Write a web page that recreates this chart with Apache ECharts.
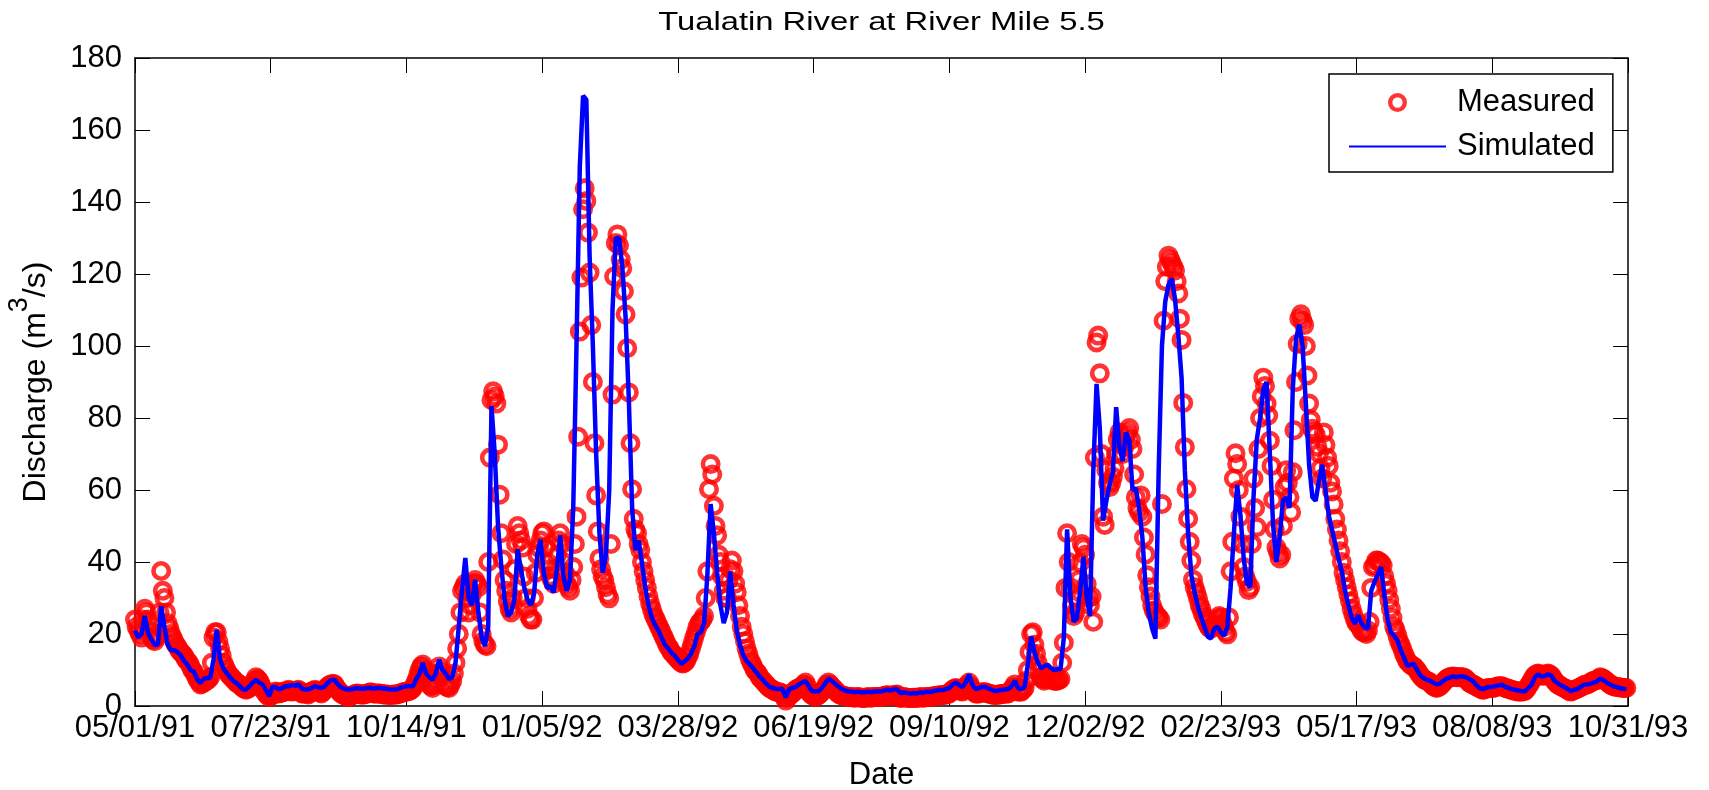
<!DOCTYPE html>
<html>
<head>
<meta charset="utf-8">
<title>Tualatin River at River Mile 5.5</title>
<script src="https://cdn.jsdelivr.net/npm/echarts@6/dist/echarts.min.js"></script>
<style>
  html, body { margin: 0; padding: 0; background: #ffffff; }
  #chart { width: 1709px; height: 790px; }
</style>
</head>
<body>
<div id="chart"></div>
<script>
// Discharge, Tualatin River at RM 5.5, from 05/01/91 (day 0).
// Measured values are daily; simulated values are every 2 days.
const chartTitle = 'Tualatin River at River Mile 5.5';
const measuredStepDays = 1;
const simulatedStepDays = 2;
const tickStepDays = 83;
const tickLabels = ['05/01/91', '07/23/91', '10/14/91', '01/05/92', '03/28/92', '06/19/92',
  '09/10/92', '12/02/92', '02/23/93', '05/17/93', '08/08/93', '10/31/93'];
const yTicks = [0, 20, 40, 60, 80, 100, 120, 140, 160, 180];

// Measured discharge (m3/s), one row per 20 days
const measuredQ = [
  24, 22, 21, 20, 19, 24, 27, 26, 24, 21, 19, 18.5, 18, 19, 20, 26, 37.5, 32, 30, 26,
  23, 21.5, 20, 19, 18, 17, 16.5, 15.5, 15, 14.5, 14, 13, 12.5, 12, 11, 10, 9.5, 8.5, 7.5, 6.8,
  6, 6.2, 6.5, 7, 7, 7.5, 8, 12, 19, 20.5, 20.5, 18, 16, 14, 12, 11, 10, 9, 8.5, 8,
  7.5, 7, 6.5, 6.2, 6, 5.5, 5, 4.8, 4.5, 4.8, 5, 5.5, 6, 7, 8, 7.5, 7, 6, 5, 4.2,
  3.5, 3, 2.5, 2.8, 3, 3.5, 4, 3.8, 3.5, 3.6, 3.8, 4, 4, 4.2, 4.5, 4.2, 4, 4.1, 4.2, 4.3,
  4.5, 4, 3.5, 3.5, 3.6, 3.4, 3.2, 3.6, 4, 4.2, 4.5, 4.2, 4, 3.8, 3.5, 4, 4.5, 5, 5.5, 5.8,
  6, 6.2, 6, 5.2, 4.5, 4, 3.5, 3.2, 3, 2.8, 2.5, 2.6, 2.8, 3, 3.2, 3.4, 3.5, 3.3, 3.2, 3.2,
  3.2, 3.3, 3.5, 3.6, 3.8, 3.6, 3.5, 3.5, 3.5, 3.5, 3.5, 3.3, 3.2, 3.2, 3.2, 3.1, 3, 3.1, 3.2, 3.2,
  3.2, 3.3, 3.5, 3.6, 3.8, 3.9, 4, 4.1, 4.2, 4.5, 5, 6, 7, 8.5, 10, 11, 11.5, 10, 8, 7,
  6, 5.5, 5, 6, 7, 9, 11, 9.5, 8, 6.5, 5.5, 5.2, 5, 6, 7, 9, 12, 16, 20, 26,
  32, 33, 34, 30, 26, 28, 31, 34, 35, 34, 33, 26, 20, 18, 17, 16.6, 40, 69, 85, 87.4,
  86, 84, 72.6, 58.7, 48, 40.7, 35, 32, 29, 27, 26, 30, 38, 45, 50, 48, 46, 44, 36, 30,
  27, 25, 24, 24, 30, 37, 42, 44, 46, 48, 48.5, 44, 40, 38, 36, 35, 34, 38, 42, 46,
  48, 45, 40, 37, 34, 33, 32, 35, 38.6, 45, 52.6, 74.8, 104, 119, 138, 143.8, 140.3, 131.5, 120.4, 105.8,
  90, 73, 58.5, 48.5, 41, 38, 36, 35, 33, 31, 29.9, 45, 86.5, 119.3, 128.6, 131, 128, 124, 121.6, 115.2,
  108.8, 99.4, 87.1, 73, 60.2, 52, 49, 47.9, 45, 43.3, 40, 37.4, 35, 32.8, 30.5, 28.5, 27, 25.5, 24.5, 23.5,
  22.5, 21.5, 20.5, 19.5, 18.5, 17.5, 16.5, 16, 15, 14.5, 14, 13.5, 13, 12.5, 12, 11.8, 12, 12.5, 13.5, 14.5,
  16, 17.5, 19, 20.5, 22, 23, 23.5, 24, 25, 30, 37.4, 60.2, 67.2, 64.3, 55.6, 50, 47.4, 42, 40, 36,
  32, 30, 30, 35, 38, 40.4, 37.4, 34, 31.6, 28, 25, 22, 20, 18, 16, 14.5, 13, 12, 11, 10,
  9.5, 9, 8, 7.5, 7, 6.5, 6, 5.5, 5, 4.8, 4.5, 4.2, 4, 3.9, 3.8, 3.6, 3.5, 2.5, 1.5, 2.2,
  3, 3.2, 3.5, 4, 4.5, 4.8, 5, 5.2, 5.5, 6, 6.5, 5.5, 4, 3.5, 3, 2.8, 2.5, 2.8, 3, 3.5,
  4, 4.5, 5, 6, 6.5, 6, 5.5, 5, 4.5, 4, 3.5, 3.2, 3, 2.9, 2.8, 2.6, 2.5, 2.5, 2.5, 2.4,
  2.3, 2.4, 2.5, 2.4, 2.3, 2.2, 2.2, 2.3, 2.5, 2.4, 2.3, 2.4, 2.5, 2.5, 2.5, 2.5, 2.5, 2.6, 2.8, 2.9,
  3, 2.9, 2.8, 2.9, 3, 3.1, 3.2, 2.7, 2.2, 2.3, 2.5, 2.4, 2.3, 2.2, 2.2, 2.2, 2.3, 2.3, 2.2, 2.3,
  2.5, 2.4, 2.3, 2.4, 2.5, 2.5, 2.5, 2.6, 2.7, 2.7, 2.8, 2.9, 3, 3, 3, 3.1, 3.2, 3.3, 3.5, 4,
  4.5, 4.8, 5, 4.8, 4.5, 4.2, 4, 4.5, 5, 5.8, 6.5, 5.5, 4.5, 4, 3.5, 3.5, 3.5, 3.6, 3.8, 3.8,
  3.8, 3.6, 3.5, 3.3, 3.2, 3.1, 3, 3.1, 3.2, 3.2, 3.3, 3.4, 3.5, 3.5, 3.5, 4, 4.5, 5.2, 6, 5,
  4, 4, 4, 4.5, 5, 7, 10, 15, 20, 20.5, 17, 14.5, 12, 10, 8, 7.5, 7, 7.5, 8, 8,
  7.5, 7.2, 7, 7, 7, 7.2, 7.5, 12, 17.6, 32.8, 48, 40, 33, 28, 25, 26, 30, 35, 39.8, 45,
  44, 42, 33.9, 30, 28, 30.4, 23.4, 69, 101, 102.9, 92.4, 70, 52.6, 50.3, 65.5, 62, 60.8, 62, 63.7, 66,
  70, 74, 76, 73, 70, 72, 75, 76, 77.2, 74, 71.4, 64.3, 58, 55, 53.8, 58.5, 52.6, 46.8, 42.1, 36.3,
  33, 30.4, 28, 26.5, 25.7, 25, 24.6, 24, 56.1, 107, 118, 122, 125.1, 124, 123, 122, 121, 118, 114.6, 107.6,
  101.7, 84.2, 71.9, 60.2, 52, 45.6, 40.4, 35.1, 33, 31.6, 30, 28.1, 27, 25.5, 24.6, 23.5, 22.5, 21.7, 21.5, 22,
  22.5, 23, 24, 25, 24.6, 23, 22, 20.5, 19.9, 24.6, 37.4, 45.6, 63.2, 70.2, 67.2, 60, 52.6, 45, 38.6, 36,
  34.5, 32.2, 33, 45, 63.2, 55, 49.7, 71.4, 80, 86, 91.2, 88.9, 84, 80.7, 73.7, 66.7, 57.3, 49.1, 44, 42.7,
  41, 42, 50, 60.8, 65.5, 62, 58, 53.8, 65, 76.6, 90, 100.6, 107.6, 108.8, 107, 105.8, 100, 91.8, 84, 79.5,
  77, 76, 75.4, 72, 70.2, 66, 63.2, 76, 72.5, 69, 66.7, 62, 59.6, 56, 52, 49, 46, 43, 40, 37,
  35, 33, 31, 29, 27, 25.5, 24, 23, 23, 22, 21, 20.5, 20.5, 20, 21, 23.4, 32.8, 38.6, 39, 40.4,
  40.4, 40, 39.8, 39, 36, 34, 32, 29.5, 27, 24.5, 22, 21, 19.5, 18, 17, 15.8, 14.5, 13.5, 12.5, 12,
  11.5, 11.2, 11, 10.5, 10, 9.2, 8.5, 8, 7.5, 7.2, 7, 6.8, 6.5, 6, 5.5, 5.2, 5, 5.2, 5.5, 6,
  6.5, 7, 7.5, 7.8, 8, 8.1, 8.2, 8.1, 8, 8, 8, 8, 8, 7.8, 7.5, 7, 6.5, 6.2, 6, 5.8,
  5.5, 5.2, 5, 4.8, 4.5, 4.6, 4.8, 4.9, 5, 5, 5, 5.1, 5.2, 5.4, 5.5, 5.5, 5.5, 5.2, 5, 4.9,
  4.8, 4.6, 4.5, 4.3, 4.2, 4.1, 4, 4, 4, 4.1, 4.2, 4.8, 5.5, 6.2, 7, 7.8, 8.5, 8.8, 9, 8.8,
  8.5, 8.5, 8.5, 8.8, 9, 8.8, 8.5, 7.8, 7, 6.5, 6, 5.8, 5.5, 5.2, 5, 4.8, 4.5, 4.2, 4, 4.2,
  4.5, 4.6, 4.8, 5, 5.2, 5.5, 5.8, 5.9, 6, 6.2, 6.5, 6.8, 7, 7.1, 7.2, 7.6, 8, 7.8, 7.5, 7.2,
  6.8, 6.4, 6, 5.8, 5.5, 5.4, 5.3, 5.2, 5.2, 5.1, 5, 5, 5
];

// Simulated discharge (m3/s), one row per 20 days
const simulatedQ = [
  21, 19, 20, 25, 20.3, 18.5, 17, 17, 27.7, 22,
  17, 15.5, 15.5, 15, 14, 12.5, 11.5, 10, 9.5, 7.5,
  6.4, 7.5, 7.8, 7.8, 12.9, 21.2, 13, 10.5, 9.2, 8,
  7, 6.4, 5.5, 4.6, 4.6, 5.5, 6.5, 7.3, 6.5, 6,
  4.5, 2.7, 5.3, 5.3, 4.6, 5, 5.5, 5.5, 5.8, 5.6,
  6, 4.8, 4.6, 4.6, 5, 5.5, 5.2, 5, 5.5, 6.5,
  7.2, 7.3, 6, 5.2, 4.8, 4.6, 4.6, 4.8, 5, 4.8,
  4.8, 5, 5, 4.8, 5, 5, 4.8, 4.8, 4.6, 4.6,
  4.6, 5, 5.3, 5.5, 5.5, 5.5, 7.5, 9, 12, 9,
  8, 7.3, 9, 12.9, 10, 9, 7.5, 8, 12, 22,
  32.3, 41.1, 30, 28, 35.1, 26, 19, 16.6, 22, 83.3,
  70, 50, 38.8, 29.6, 25, 26, 29.6, 43.5, 38, 33,
  29.6, 28, 31, 42.1, 46.2, 37, 32.8, 33.3, 31.5, 38,
  47.4, 36, 32, 35, 55, 100.6, 149.7, 169.5, 168.4, 125,
  100, 70, 48, 37, 42, 60, 110, 130, 130, 122,
  108, 85, 55, 43.3, 46, 39.8, 33, 28, 24.6, 22.5,
  21.1, 19, 17, 16, 14.8, 14, 12.8, 11.7, 12.3, 13.2,
  14.5, 16.5, 20, 20.5, 23, 36.3, 56.1, 48, 37, 28,
  23, 26, 37.4, 28.1, 21, 17, 14.1, 12.5, 11.5, 10.5,
  9.3, 8.2, 7.2, 6.2, 5.3, 5, 4.8, 4.7, 4.7, 2.4,
  4.7, 5, 5.3, 6, 6.5, 7, 5.5, 4.1, 4.1, 4.1,
  5, 6.2, 7.6, 7, 6.2, 5.5, 4.8, 4.3, 4.1, 4,
  3.8, 4, 3.8, 3.8, 4, 3.8, 4, 4.1, 4, 4.3,
  4.5, 4.3, 4.6, 4.7, 3.5, 3.8, 3.6, 3.5, 3.6, 3.5,
  3.8, 3.6, 4, 3.9, 4.1, 4.3, 4.5, 4.4, 4.7, 5,
  6, 6.5, 5.8, 5.3, 6.5, 8.8, 6, 4.7, 5, 5.3,
  5.3, 4.8, 4.5, 4.1, 4.3, 4.5, 4.6, 4.7, 5.5, 7,
  5, 4.7, 5.3, 11.7, 19.3, 15, 12.2, 10.5, 11, 11.5,
  10.6, 10, 10.2, 10.3, 19, 49.1, 30.4, 23.4, 24.5, 32,
  41.5, 30, 25, 65, 89.5, 77.2, 51.5, 57, 61.5, 65,
  83, 72, 68, 76, 74, 60, 60.5, 55, 47, 33,
  25.7, 21.5, 18.7, 65.5, 100, 112.3, 117, 118.7, 113, 103,
  91.2, 65.5, 48, 36.3, 31.5, 27.5, 24.6, 22, 19.3, 18.7,
  21.5, 22, 20.5, 19.5, 22, 33, 48, 61.4, 53, 41,
  34, 33, 58, 74, 80, 88, 90, 70, 50, 40,
  47, 57, 58, 55, 88, 102, 106, 100, 84, 67,
  58, 57, 62.5, 67, 60, 53, 49, 45, 41, 37.4,
  32, 28, 24.6, 22.8, 25.2, 23, 21.8, 21.5, 32, 34.5,
  36.5, 38.6, 31, 24, 20.5, 19.5, 18.2, 15.5, 13.5, 11.1,
  11.5, 11.7, 10, 8.5, 7.8, 7.3, 7, 6.5, 6, 6.2,
  7, 7.6, 7.9, 8.2, 8, 8.2, 8.2, 8, 7.5, 7,
  6, 5, 4.7, 5, 5.3, 5.3, 5.5, 5.8, 5.9, 5.3,
  5, 4.7, 4.5, 4.3, 4.1, 4.1, 5, 5.9, 8, 8.8,
  8.2, 8.3, 8.8, 8.5, 7, 6.3, 5.8, 5.3, 4.8, 4.1,
  4.5, 4.7, 5.3, 5.9, 6, 6.2, 6.5, 6.8, 7.6, 7.2,
  6.5, 6, 5.5, 5.3, 5, 4.8, 4.7
];

const FONT = '"Liberation Sans", Arial, Helvetica, sans-serif';
const lastDay = tickStepDays * (tickLabels.length - 1);
const yMin = yTicks[0];
const yMax = yTicks[yTicks.length - 1];
const yStep = yTicks[1] - yTicks[0];

const GRID = { left: 135, right: 81, top: 58, bottom: 84 };
const plotCenterX = GRID.left + (1709 - GRID.left - GRID.right) / 2;

// open ring marker (outer radius 50, inner radius 27, opposite winding leaves the hole)
const RING = 'path://M50,0A50,50,0,1,1,50,100A50,50,0,1,1,50,0ZM50,23A27,27,0,1,0,50,77A27,27,0,1,0,50,23Z';

// pair each sample with its day offset from the first date
const toSeries = (values, step) => values.map((q, i) => [i * step, q]);

const frameLine = { show: true, onZero: false, lineStyle: { color: '#000', width: 1.5 } };
const innerTick = { show: true, inside: true, length: 15, lineStyle: { color: '#000', width: 1 } };

const chart = echarts.init(document.getElementById('chart'), null, { renderer: 'canvas' });

chart.setOption({
  animation: false,
  backgroundColor: '#ffffff',
  textStyle: { fontFamily: FONT },
  // plot title, set in a slightly widened face centred over the plot area
  graphic: [{
    type: 'text',
    x: plotCenterX,
    y: 23,
    scaleX: 1.26,
    scaleY: 1,
    style: {
      text: chartTitle,
      font: '26px ' + FONT,
      fill: '#000',
      align: 'center',
      verticalAlign: 'middle'
    },
    silent: true
  }],
  grid: Object.assign({ containLabel: false, outerBoundsMode: 'none' }, GRID),
  legend: {
    orient: 'vertical',
    left: 1329,
    top: 74,
    backgroundColor: '#ffffff',
    borderColor: '#000',
    borderWidth: 1.5,
    borderRadius: 0,
    padding: [13, 18, 10, 19],
    itemWidth: 97,
    itemHeight: 19,
    itemGap: 13,
    textStyle: { fontFamily: FONT, fontSize: 31, color: '#000', lineHeight: 31, padding: [0, 0, 0, 6] },
    data: [
      'Measured',
      { name: 'Simulated', itemStyle: { opacity: 0 } }
    ]
  },
  xAxis: [
    {
      type: 'value',
      position: 'bottom',
      min: 0,
      max: lastDay,
      interval: tickStepDays,
      name: 'Date',
      nameLocation: 'middle',
      nameGap: 54,
      nameMoveOverlap: false,
      nameTextStyle: { fontFamily: FONT, fontSize: 31, color: '#000', lineHeight: 31 },
      axisLine: frameLine,
      axisTick: innerTick,
      splitLine: { show: false },
      axisLabel: {
        fontFamily: FONT, fontSize: 31, color: '#000', margin: 7,
        showMinLabel: true, showMaxLabel: true, hideOverlap: false,
        formatter: v => tickLabels[Math.round(v / tickStepDays)]
      }
    },
    {
      type: 'value',
      position: 'top',
      min: 0,
      max: lastDay,
      interval: tickStepDays,
      axisLine: frameLine,
      axisTick: innerTick,
      splitLine: { show: false },
      axisLabel: { show: false }
    }
  ],
  yAxis: [
    {
      type: 'value',
      position: 'left',
      min: yMin,
      max: yMax,
      interval: yStep,
      name: '{t|Discharge (m}{s|3}{t|/s)}',
      nameLocation: 'middle',
      nameRotate: 90,
      nameGap: 83,
      nameMoveOverlap: false,
      nameTextStyle: {
        rich: {
          t: { fontFamily: FONT, fontSize: 32, color: '#000', lineHeight: 46, verticalAlign: 'bottom' },
          s: { fontFamily: FONT, fontSize: 27, color: '#000', lineHeight: 26, verticalAlign: 'top' }
        }
      },
      axisLine: frameLine,
      axisTick: innerTick,
      splitLine: { show: false },
      axisLabel: { fontFamily: FONT, fontSize: 31, color: '#000', margin: 13, showMinLabel: true, showMaxLabel: true }
    },
    {
      type: 'value',
      position: 'right',
      min: yMin,
      max: yMax,
      interval: yStep,
      axisLine: frameLine,
      axisTick: innerTick,
      splitLine: { show: false },
      axisLabel: { show: false }
    }
  ],
  series: [
    {
      name: 'Measured',
      type: 'scatter',
      xAxisIndex: 0,
      yAxisIndex: 0,
      data: toSeries(measuredQ, measuredStepDays),
      symbol: RING,
      symbolSize: 20,
      itemStyle: { color: '#ff0000', borderWidth: 0 },
      z: 2
    },
    {
      name: 'Simulated',
      type: 'line',
      xAxisIndex: 0,
      yAxisIndex: 0,
      data: toSeries(simulatedQ, simulatedStepDays),
      symbol: 'none',
      showSymbol: false,
      lineStyle: { color: '#0000ff', width: 4.5 },
      itemStyle: { color: '#0000ff' },
      z: 3
    }
  ]
});
</script>
</body>
</html>
